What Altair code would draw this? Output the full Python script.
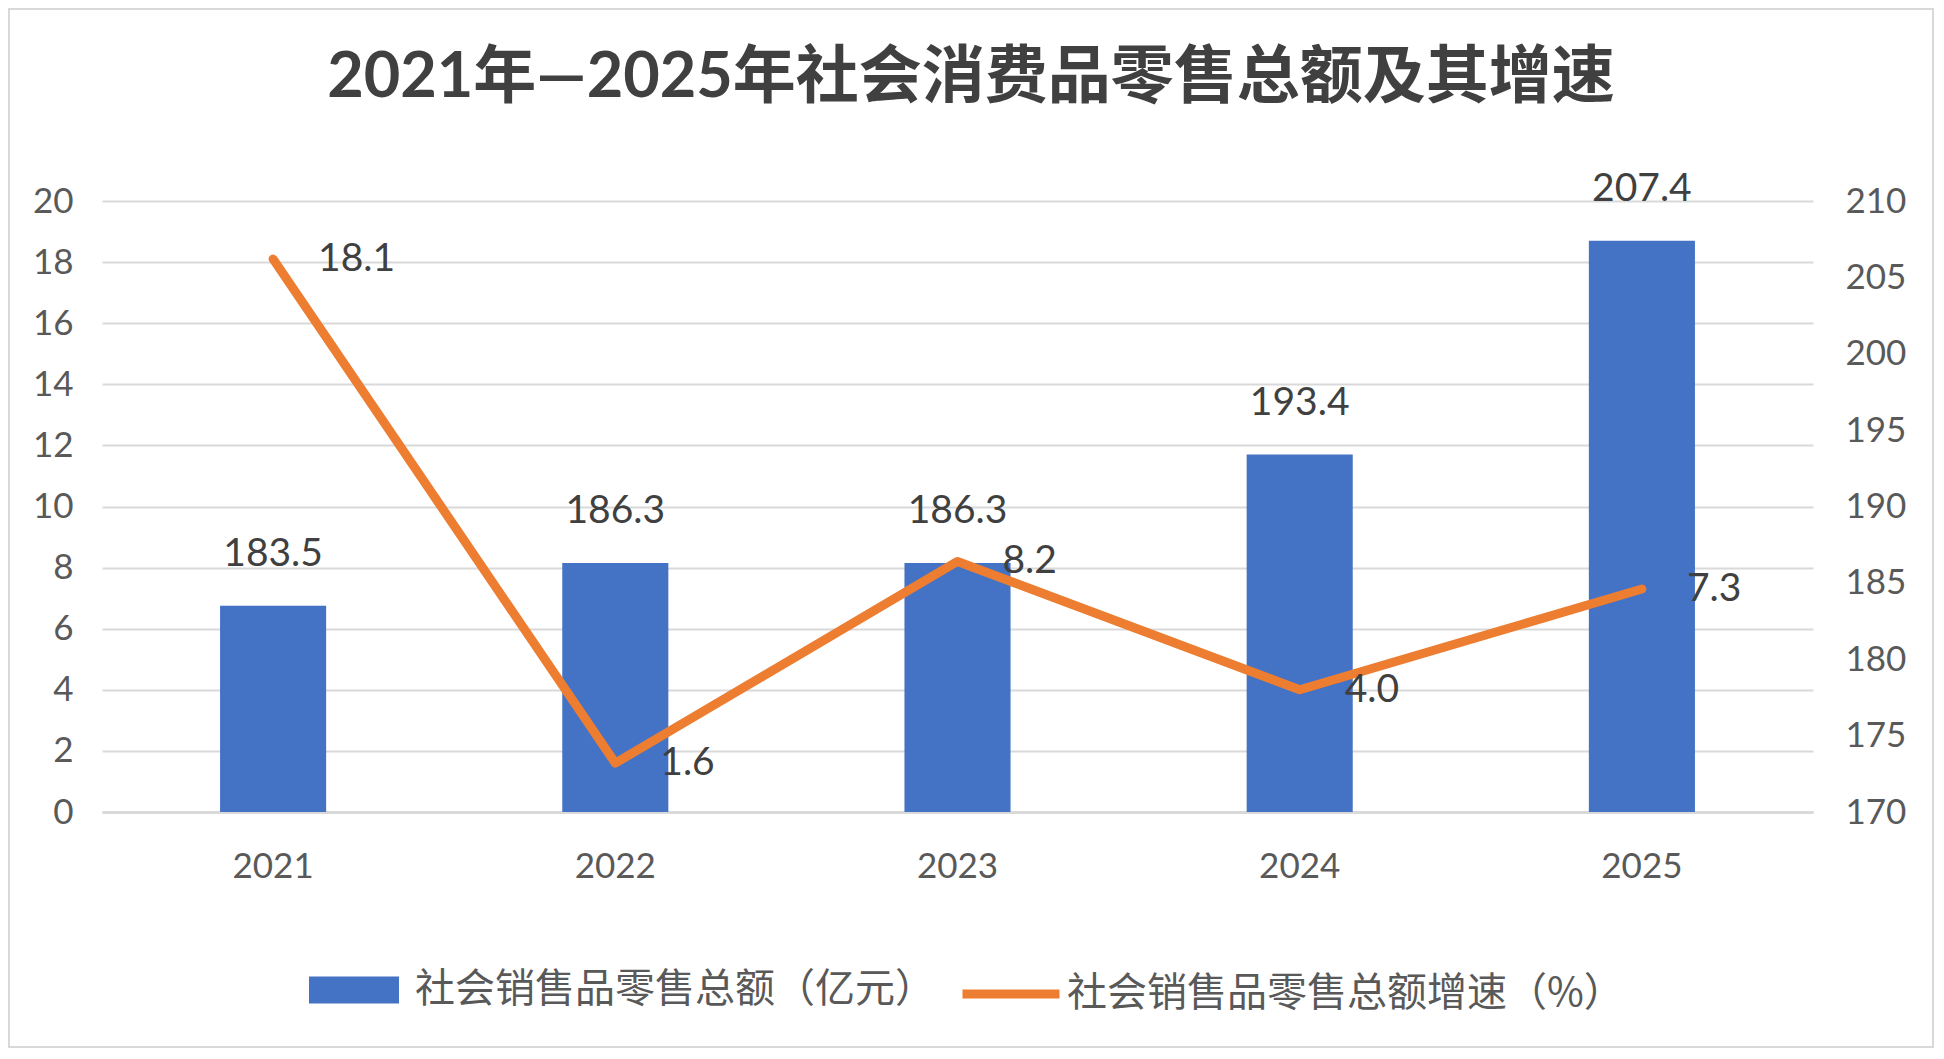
import altair as alt
import pandas as pd

years = ["2021", "2022", "2023", "2024", "2025"]
retail_total = [183.5, 186.3, 186.3, 193.4, 207.4]
growth_rate = [18.1, 1.6, 8.2, 4.0, 7.3]
bar_series = "社会销售品零售总额（亿元）"
line_series = "社会销售品零售总额增速（%）"
title_text = "2021年—2025年社会消费品零售总额及其增速"

df = pd.DataFrame({
    "year": years,
    "total": retail_total,
    "growth": growth_rate,
    "bar_s": [bar_series] * len(years),
    "line_s": [line_series] * len(years),
})

NUM_FONT = "Lato, 'Noto Sans CJK SC'"
CJK_FONT = "'Noto Sans CJK SC', Lato"
PW, PH = 1711, 611
PAD_L, PAD_T, PAD_R, PAD_B = 94, 193, 121, 236

x_enc = alt.X(
    "year:N",
    sort=years,
    scale=alt.Scale(paddingInner=0.69, paddingOuter=0.345),
    axis=alt.Axis(
        title=None, labelAngle=0, labelFont=NUM_FONT, labelFontSize=35,
        labelColor="#595959", labelPadding=37, ticks=False,
        domainColor="#d9d9d9", domainWidth=3, grid=False,
    ),
)

y_bar = alt.Y(
    "total:Q",
    scale=alt.Scale(domain=[170, 210], nice=False, zero=False),
    axis=alt.Axis(
        orient="right", title=None, values=[170, 175, 180, 185, 190, 195, 200, 205, 210],
        labelFont=NUM_FONT, labelFontSize=35, labelColor="#595959",
        labelPadding=32, ticks=False, domain=False, grid=False,
    ),
)

y_line = alt.Y(
    "growth:Q",
    scale=alt.Scale(domain=[0, 20], nice=False),
    axis=alt.Axis(
        orient="left", title=None, values=list(range(0, 21, 2)),
        labelFont=NUM_FONT, labelFontSize=35, labelColor="#595959",
        labelPadding=29, ticks=False, domain=False, grid=True,
        gridColor="#d9d9d9", gridWidth=2,
    ),
)

base = alt.Chart(df)

bars = base.mark_bar(color="#4472C4").encode(
    x=x_enc,
    y=y_bar,
    y2=alt.datum(170),
    fill=alt.Fill(
        "bar_s:N",
        scale=alt.Scale(range=["#4472C4"]),
        legend=alt.Legend(
            title=None, orient="none", legendX=207, legendY=744,
            symbolType="M-1,-0.3H1V0.3H-1Z", symbolSize=8100,
            symbolStrokeWidth=0, labelFont=CJK_FONT, labelFontSize=40,
            labelColor="#595959", labelOffset=16, labelLimit=1200, padding=0,
        ),
    ),
)

bar_text = base.mark_text(
    font=NUM_FONT, fontSize=39, color="#404040", baseline="middle", dy=-52
).encode(
    x=alt.X("year:N", sort=years),
    y=alt.Y("total:Q"),
    text=alt.Text("total:Q", format=".1f"),
)

line = base.mark_line(strokeWidth=9, strokeJoin="round", strokeCap="round").encode(
    x=alt.X("year:N", sort=years),
    y=y_line,
    stroke=alt.Stroke(
        "line_s:N",
        scale=alt.Scale(range=["#ED7D31"]),
        legend=alt.Legend(
            title=None, orient="none", legendX=856, legendY=740,
            symbolType="stroke", symbolSize=9409, symbolStrokeWidth=9,
            labelFont=CJK_FONT, labelFontSize=40, labelColor="#595959",
            labelOffset=3, labelLimit=1200, padding=0,
        ),
    ),
)

line_text = base.mark_text(
    font=NUM_FONT, fontSize=39, color="#404040", baseline="middle", align="left", dx=45
).encode(
    x=alt.X("year:N", sort=years),
    y=alt.Y("growth:Q"),
    text=alt.Text("growth:Q", format=".1f"),
)

single = alt.Chart(pd.DataFrame({"title": [title_text]}))

border = single.mark_rect(
    fill=None, stroke="#d9d9d9", strokeWidth=2
).encode(
    x=alt.value(-PAD_L + 1),
    x2=alt.value(PW + PAD_R - 1),
    y=alt.value(-PAD_T + 1),
    y2=alt.value(PH + PAD_B - 1),
)

title_mark = single.mark_text(
    font=NUM_FONT, fontSize=63, fontWeight="bold", color="#404040",
    align="center", baseline="middle",
).encode(
    text="title:N",
    x=alt.value(869),
    y=alt.value(-123),
)

chart = alt.layer(
    border,
    title_mark,
    alt.layer(bars, bar_text),
    alt.layer(line, line_text),
).resolve_scale(
    y="independent", fill="independent", stroke="independent"
).properties(
    width=PW,
    height=PH,
    padding={"left": PAD_L, "top": PAD_T, "right": PAD_R, "bottom": PAD_B},
    autosize=alt.AutoSizeParams(type="none"),
    background="white",
).configure_view(stroke=None)

chart.save("out.html", embed_options={"renderer": "svg", "actions": False})
